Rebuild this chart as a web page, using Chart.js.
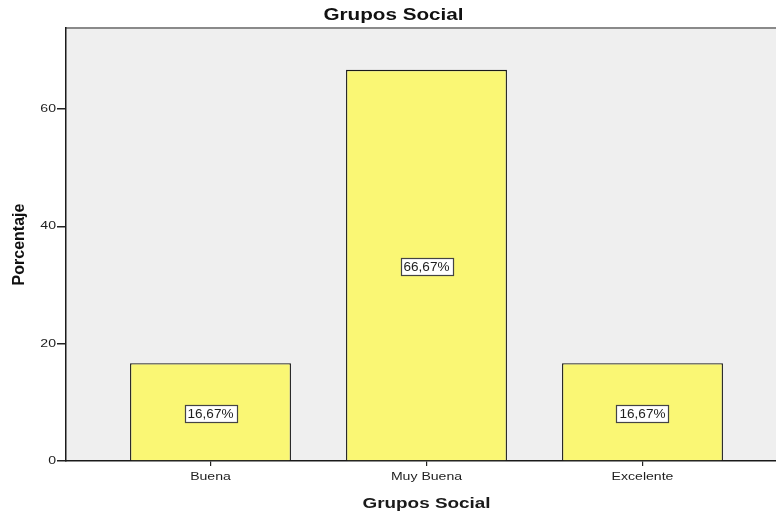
<!DOCTYPE html>
<html>
<head>
<meta charset="utf-8">
<title>Grupos Social</title>
<script src="https://cdn.jsdelivr.net/npm/chart.js@4.4.1/dist/chart.umd.min.js"></script>
<style>
  html, body { margin: 0; padding: 0; overflow: hidden; background: #fff; }
  #wrap { width: 787px; height: 512px; }
</style>
</head>
<body>
<div id="wrap"><canvas id="chart" width="787" height="512"></canvas></div>
<script>
const categories = ['Buena', 'Muy Buena', 'Excelente'];
const porcentajes = [16.67, 66.67, 16.67];
const yTicks = [0, 20, 40, 60];

const FONT = "Arial, 'Liberation Sans', sans-serif";
const INK = '#1e1e1e';

// horizontal text is drawn wide; widening factor picked by font size
const stretch = { 16: 1.29, 15: 1.26, 12: 1.13, 11: 1.28 };

const canvas = document.getElementById('chart');
const ctx2d = canvas.getContext('2d');
const rawFill = ctx2d.fillText.bind(ctx2d);
ctx2d.fillText = function (text, x, y, maxWidth) {
  const t = ctx2d.getTransform();
  const m = /(\d+)px/.exec(ctx2d.font);
  const k = m ? (stretch[m[1]] || 1) : 1;
  // rotated text (the y title) is left as is
  if (k === 1 || t.b !== 0 || t.c !== 0) {
    return maxWidth === undefined ? rawFill(text, x, y) : rawFill(text, x, y, maxWidth);
  }
  ctx2d.save();
  ctx2d.translate(x, y);
  ctx2d.scale(k, 1);
  rawFill(text, 0, 0);
  ctx2d.restore();
};

// grey panel behind the bars plus the thin frame line on top
const panelBg = {
  id: 'panelBg',
  beforeDraw(chart) {
    const { ctx, chartArea: a } = chart;
    ctx.save();
    ctx.fillStyle = '#efefef';
    ctx.fillRect(a.left, a.top, a.right - a.left, a.bottom - a.top);
    ctx.strokeStyle = '#8a8a8a';
    ctx.lineWidth = 2;
    ctx.beginPath();
    ctx.moveTo(a.left, a.top);
    ctx.lineTo(a.right, a.top);
    ctx.stroke();
    ctx.restore();
  }
};

// boxed percentage label in the middle of each bar
const barLabels = {
  id: 'barLabels',
  afterDatasetsDraw(chart) {
    const { ctx } = chart;
    const meta = chart.getDatasetMeta(0);
    ctx.save();
    ctx.font = '12px ' + FONT;
    ctx.textAlign = 'center';
    ctx.textBaseline = 'middle';
    meta.data.forEach((bar, i) => {
      const txt = porcentajes[i].toFixed(2).replace('.', ',') + '%';
      const w = Math.round(ctx.measureText(txt).width * stretch[12] + 6);
      const h = 17;
      const cx = bar.x;
      const cy = (bar.y + bar.base) / 2 + 1.5;
      const bx = Math.round(cx - w / 2) + 0.5;
      const by = Math.round(cy - h / 2) + 0.5;
      ctx.fillStyle = '#fff';
      ctx.fillRect(bx, by, w, h);
      ctx.strokeStyle = '#444';
      ctx.lineWidth = 1.2;
      ctx.strokeRect(bx, by, w, h);
      ctx.fillStyle = INK;
      ctx.fillText(txt, cx, cy + 1);
    });
    ctx.restore();
  }
};

new Chart(canvas, {
  type: 'bar',
  data: {
    datasets: [{
      data: porcentajes.map((v, i) => ({ x: i, y: v })),
      backgroundColor: '#faf774',
      borderColor: '#1a1a1a',
      borderWidth: 1.3,
      barPercentage: 0.745,
      categoryPercentage: 1
    }]
  },
  options: {
    responsive: false,
    animation: false,
    layout: { padding: 0 },
    plugins: {
      legend: { display: false },
      tooltip: { enabled: false },
      title: {
        display: true,
        text: 'Grupos Social',
        color: '#111',
        font: { family: FONT, size: 16, weight: 'bold' },
        padding: { top: 6, bottom: 2.8 }
      }
    },
    scales: {
      x: {
        type: 'linear',
        offset: false,
        min: -0.669,
        max: 2.669,
        afterBuildTicks: s => { s.ticks = categories.map((_, i) => ({ value: i })); },
        afterFit: s => { s.height = 51; },
        ticks: {
          color: INK,
          font: { family: FONT, size: 11 },
          padding: 4,
          autoSkip: false,
          maxRotation: 0,
          callback: v => categories[v]
        },
        grid: { offset: false, drawOnChartArea: false, drawTicks: true, tickLength: 5, color: '#222', lineWidth: 1.2 },
        border: { display: true, color: '#1a1a1a', width: 1.5 },
        title: {
          display: true,
          text: 'Grupos Social',
          color: '#1a1a1a',
          font: { family: FONT, size: 15, weight: 'bold' },
          padding: { top: 11, bottom: -1 }
        }
      },
      y: {
        min: 0,
        max: 73.8,
        afterBuildTicks: s => { s.ticks = yTicks.map(v => ({ value: v })); },
        afterFit: s => { s.width = 66; },
        ticks: {
          color: INK,
          font: { family: FONT, size: 11 },
          padding: 1
        },
        grid: { drawOnChartArea: false, drawTicks: true, tickLength: 9, color: '#222', lineWidth: 1.5 },
        border: { display: true, color: '#1a1a1a', width: 1.5 },
        title: {
          display: true,
          text: 'Porcentaje',
          color: '#111',
          font: { family: FONT, size: 16, weight: 'bold' },
          padding: { top: 10, bottom: 0 }
        }
      }
    }
  },
  plugins: [panelBg, barLabels]
});
</script>
</body>
</html>
